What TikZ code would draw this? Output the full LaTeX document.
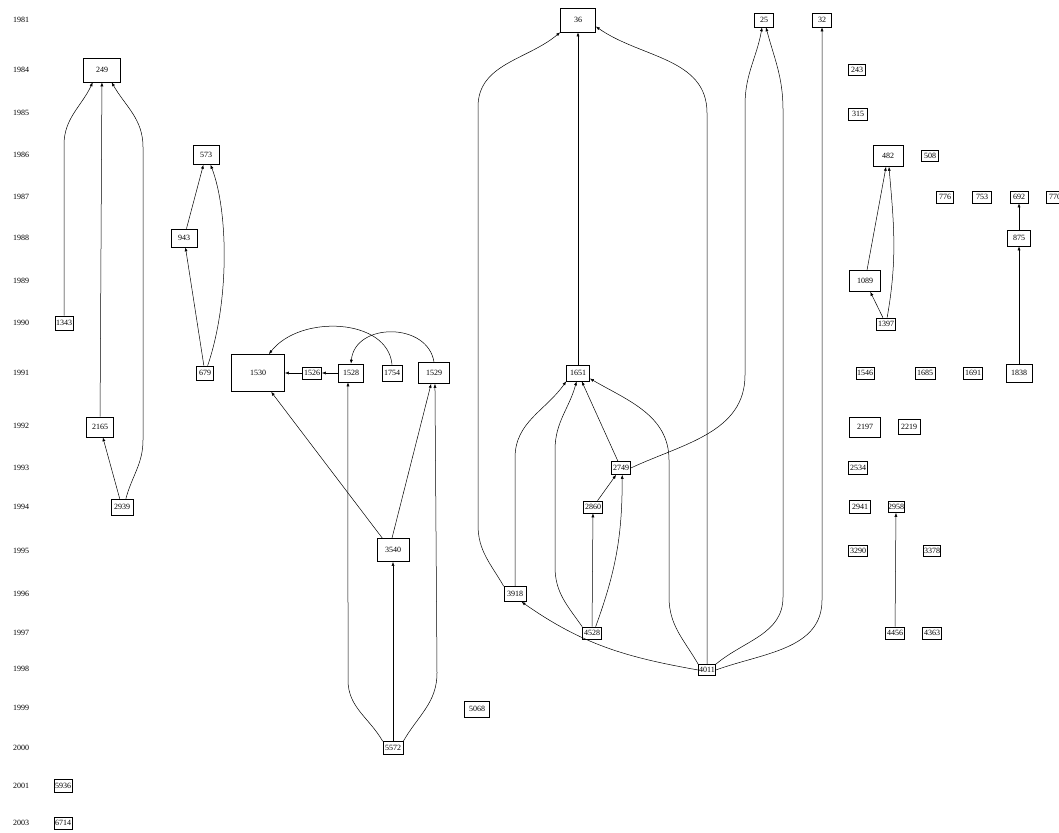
\documentclass[tikz,border=0pt]{standalone}
\usepackage{fontspec}
\setmainfont{Liberation Serif}
\usetikzlibrary{arrows.meta}

\begin{document}
\begin{tikzpicture}[x=1pt,y=1pt,
  yr/.style={font=\fontsize{8}{9}\selectfont,inner sep=0pt},
  pap/.style={draw,line width=0.6pt,inner sep=0pt,font=\fontsize{8}{9}\selectfont},
  cite/.style={-{Latex[length=4pt,width=3pt]},line width=0.5pt}]
\useasboundingbox (0,0) rectangle (1059,-832);
% years down the left
\foreach \yr/\y in {1981/20,1984/70,1985/113,1986/155,1987/197,1988/238,1989/281,1990/323,1991/373,1992/426,1993/468,1994/507,1995/551,1996/594,1997/633,1998/669,1999/708,2000/748,2001/786,2003/823} \node[yr] (y\yr) at (21,-\y) {\yr};
% papers: id/x/y/width/height
\foreach \n/\x/\y/\w/\h in {36/578/20/35/24,25/764/20/19/14,32/822/20/19/14,
  249/102/70/37/24,243/857/70/17/11,315/858/114/19/12,
  573/206/155/26/19,482/888/156/30/21,508/930/156/17/11,
  776/945/197/17/12,753/982/197/19/12,692/1019/197/18/12,770/1055/197/18/12,
  943/184/238/26/18,875/1019/238/23/16,1089/865/281/31/21,
  1343/64/323/18/14,1397/886/324/19/12,
  679/205/373/17/14,1530/258/373/53/37,1526/312/373/19/12,1528/351/373/25/18,1754/392/373/20/16,1529/434/373/31/21,
  1651/578/373/23/16,1546/865/373/18/12,1685/925/373/20/12,1691/973/373/19/12,1838/1019/373/26/18,
  2165/100/427/27/20,2197/865/427/31/20,2219/909/427/22/15,
  2749/621/468/19/13,2534/858/468/19/13,
  2939/122/507/22/16,2860/593/507/19/12,2941/860/507/21/13,2958/896/507/16/11,
  3540/393/550/32/23,3290/858/551/19/11,3378/932/551/17/11,3918/515/594/22/15,
  4528/592/633/19/12,4456/895/633/19/12,4363/932/633/19/12,4011/707/670/17/11,
  5068/477/709/25/16,5572/393/748/20/13,5936/63/786/18/13,6714/63/823/18/12}
  \node[pap,minimum width=\w pt,minimum height=\h pt] (p\n) at (\x,-\y) {\n};
% straight citations
\foreach \a/\b in {2165/249,2939/2165,943/573,679/943,1526/1530,1528/1526,5572/3540,1651/36,2749/1651,2860/2749,4528/2860,1397/1089,1089/482,875/692,1838/875,4456/2958}
  \draw[cite] (p\a) -- (p\b);
% bent citations
\draw[cite] (p1343.north) -- (64,-145) to[out=90,in=245] (p249.233);
\draw[cite] (p2939.65) to[out=75,in=-90] (143,-440) -- (143,-147) to[out=90,in=-60] (p249.-52);
\draw[cite] (p679.70) .. controls (230,-300) and (228,-210) .. (p573.-65);
\draw[cite] (p1754.north) .. controls (388,-318) and (300,-314) .. (p1530.60);
\draw[cite] (p1529.north) .. controls (428,-322) and (355,-322) .. (p1528.north);
\draw[cite] (p3540.132) -- (p1530.-55);
\draw[cite] (p3540.95) -- (p1529.-105);
\draw[cite] (p5572.north west) to[out=120,in=-90] (348,-680) -- (p1528.-108);
\draw[cite] (p5572.north east) to[out=60,in=-90] (437,-673) -- (p1529.-85);
\draw[cite] (p3918.north west) to[out=120,in=-90] (478,-525) -- (478,-107) to[out=90,in=-140] (p36.south west);
\draw[cite] (p3918.north) -- (515,-458) to[out=90,in=-125] (p1651.south west);
\draw[cite] (p4528.north west) to[out=125,in=-90] (555,-567) -- (555,-450) to[out=90,in=-105] (p1651.-100);
\draw[cite] (p4528.60) to[out=70,in=-90] (p2749.-80);
\draw[cite] (p4011.north) -- (707,-113) to[out=90,in=-35] (p36.-20);
\draw[cite] (p4011.north east) to[out=40,in=-90] (783,-597) -- (783,-110) to[out=90,in=-75] (p25.-75);
\draw[cite] (p4011.east) to[out=20,in=-90] (822,-600) -- (p32.south);
\draw[cite] (p2749.east) to[out=25,in=-90] (745,-375) -- (745,-105) to[out=90,in=-100] (p25.-105);
\draw[cite] (p4011.north west) to[out=120,in=-90] (669,-597) -- (669,-460) to[out=90,in=-30] (p1651.-25);
\draw[cite] (p4011.west) to[out=170,in=-35] (p3918.-50);
\draw[cite] (p1397.80) to[out=80,in=-85] (p482.-85);
\end{tikzpicture}
\end{document}
